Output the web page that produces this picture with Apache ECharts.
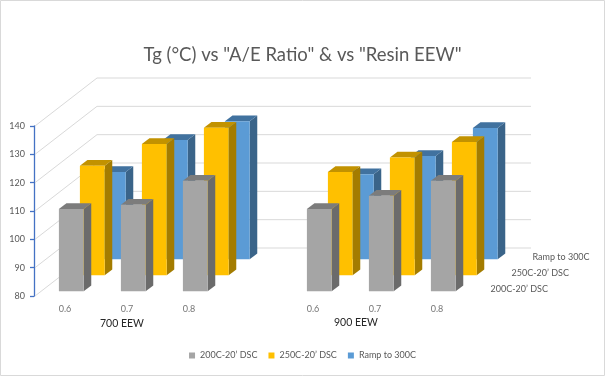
<!DOCTYPE html>
<html>
<head>
<meta charset="utf-8">
<title>Tg vs A/E Ratio &amp; Resin EEW</title>
<script src="https://cdn.jsdelivr.net/npm/echarts@6/dist/echarts.min.js"></script>
<style>
html, body { margin: 0; padding: 0; background: #fff; }
#main { width: 605px; height: 376px; }
</style>
</head>
<body>
<div id="main"></div>
<script>
// A/E ratio categories, the blank slot splits the two EEW groups
var ratios = ['0.6', '0.7', '0.8', '', '0.6', '0.7', '0.8'];
var groupNames = ['700 EEW', '900 EEW'];
var seriesNames = ['200C-20\u2019 DSC', '250C-20\u2019 DSC', 'Ramp to 300C'];

// Tg (°C), null = blank slot
var dsc200 = [109, 110.5, 119, null, 109, 113.7, 119];
var dsc250 = [118.6, 126.3, 132, null, 116.4, 121.5, 127];
var ramp300 = [110.8, 122.1, 128.7, null, 110, 116.4, 126.3];

var yTicks = [80, 90, 100, 110, 120, 130, 140];

var FONT = 'Lato';
var DX = 21, DY = 16;     // shift of one depth row (px)

var rowColors = [
    { face: '#A5A5A5', side: '#6B6B6B', top: '#7C7C7C' },
    { face: '#FFC000', side: '#A47C00', top: '#C29200' },
    { face: '#5B9BD5', side: '#3A6489', top: '#41729F' }
];

function toData(arr) {
    var d = [];
    for (var i = 0; i < arr.length; i++) {
        if (arr[i] != null) d.push([i, arr[i]]);
    }
    return d;
}

// draws one 3d-ish box per item, row = depth index (0 = front)
function barRenderer(row) {
    var c = rowColors[row];
    return function (params, api) {
        var cat = api.value(0);
        var base = api.coord([cat, yTicks[0]]);
        var top = api.coord([cat, api.value(1)]);
        var band = api.size([1, 0])[0];
        var w = band * 0.4;
        var ox = (row + 0.3) * DX, oy = (row + 0.3) * DY;
        var bx = 0.36 * DX, by = 0.36 * DY;
        var xl = base[0] - w / 2 + ox, xr = xl + w;
        var yb = base[1] - oy, yt = top[1] - oy;
        return {
            type: 'group',
            children: [
                { type: 'polygon', shape: { points: [[xr, yt], [xr + bx, yt - by], [xr + bx, yb - by], [xr, yb]] }, style: { fill: c.side } },
                { type: 'polygon', shape: { points: [[xl, yt], [xr, yt], [xr + bx, yt - by], [xl + bx, yt - by]] }, style: { fill: c.top } },
                { type: 'rect', shape: { x: xl, y: yt, width: w, height: yb - yt }, style: { fill: c.face } }
            ]
        };
    };
}

// side wall + back wall grid lines
function wallRenderer(params, api) {
    var v = api.value(1);
    var band = api.size([1, 0])[0];
    var p0 = api.coord([0, v]);
    var pN = api.coord([ratios.length - 1, v]);
    var xL = p0[0] - band / 2, xR = pN[0] + band / 2;
    var y = p0[1];
    return {
        type: 'polyline',
        shape: { points: [[xL + 1, y], [xL + 3 * DX, y - 3 * DY], [xR + 3 * DX, y - 3 * DY]] },
        style: { stroke: '#D9D9D9', fill: null, lineWidth: 1 }
    };
}

// series names along the depth axis
function depthLabelRenderer(params, api) {
    var i = params.dataIndex;
    var band = api.size([1, 0])[0];
    var p = api.coord([api.value(0), api.value(1)]);
    return {
        type: 'text',
        style: {
            x: p[0] + band / 2 + (i + 0.5) * DX + 12,
            y: p[1] - (i + 0.5) * DY + 1,
            text: seriesNames[i],
            fill: '#595959',
            font: '9px ' + FONT,
            align: 'left',
            verticalAlign: 'middle'
        }
    };
}

var myChart = echarts.init(document.getElementById('main'));

var option = {
    backgroundColor: '#fff',
    animation: false,
    textStyle: { fontFamily: FONT },
    title: {
        text: 'Tg (\u00B0C) vs "A/E Ratio" & vs "Resin EEW"',
        left: 'center',
        top: 41,
        textStyle: { fontFamily: FONT, fontSize: 18.5, fontWeight: 'normal', color: '#595959' }
    },
    legend: {
        data: seriesNames,
        bottom: 11,
        left: 'center',
        icon: 'rect',
        itemWidth: 6,
        itemHeight: 6,
        itemGap: 11,
        textStyle: { fontFamily: FONT, fontSize: 9, color: '#595959' }
    },
    grid: { left: 34, right: 137, top: 126, bottom: 80 },
    xAxis: {
        type: 'category',
        data: ratios,
        axisLine: { show: false },
        axisTick: { show: false },
        axisLabel: { margin: 9, fontSize: 9, color: '#757575', fontFamily: FONT }
    },
    yAxis: {
        type: 'value',
        min: 80,
        max: 140,
        interval: 10,
        axisLine: { show: true, lineStyle: { color: '#4472C4', width: 1.3 } },
        axisTick: { show: true, length: 4, lineStyle: { color: '#4472C4', width: 1.3 } },
        splitLine: { show: false },
        axisLabel: { margin: 9, fontSize: 9, color: '#595959', fontFamily: FONT }
    },
    graphic: [
        { type: 'rect', shape: { x: 0.5, y: 0.5, width: 604, height: 375 }, style: { fill: null, stroke: '#D9D9D9' }, silent: true },
        { type: 'text', left: 100, top: 318, style: { text: groupNames[0], fill: '#262626', font: '10.5px ' + FONT } },
        { type: 'text', left: 334, top: 317, style: { text: groupNames[1], fill: '#262626', font: '10.5px ' + FONT } }
    ],
    series: [
        { name: 'walls', type: 'custom', renderItem: wallRenderer, clip: false, silent: true, z: 1,
          data: yTicks.map(function (v) { return [0, v]; }) },
        { name: seriesNames[2], type: 'custom', renderItem: barRenderer(2), clip: false, z: 2,
          itemStyle: { color: rowColors[2].face }, data: toData(ramp300) },
        { name: seriesNames[1], type: 'custom', renderItem: barRenderer(1), clip: false, z: 3,
          itemStyle: { color: rowColors[1].face }, data: toData(dsc250) },
        { name: seriesNames[0], type: 'custom', renderItem: barRenderer(0), clip: false, z: 4,
          itemStyle: { color: rowColors[0].face }, data: toData(dsc200) },
        { name: 'depthLabels', type: 'custom', renderItem: depthLabelRenderer, clip: false, silent: true, z: 5,
          data: seriesNames.map(function () { return [ratios.length - 1, yTicks[0]]; }) }
    ]
};

myChart.setOption(option);
</script>
</body>
</html>
